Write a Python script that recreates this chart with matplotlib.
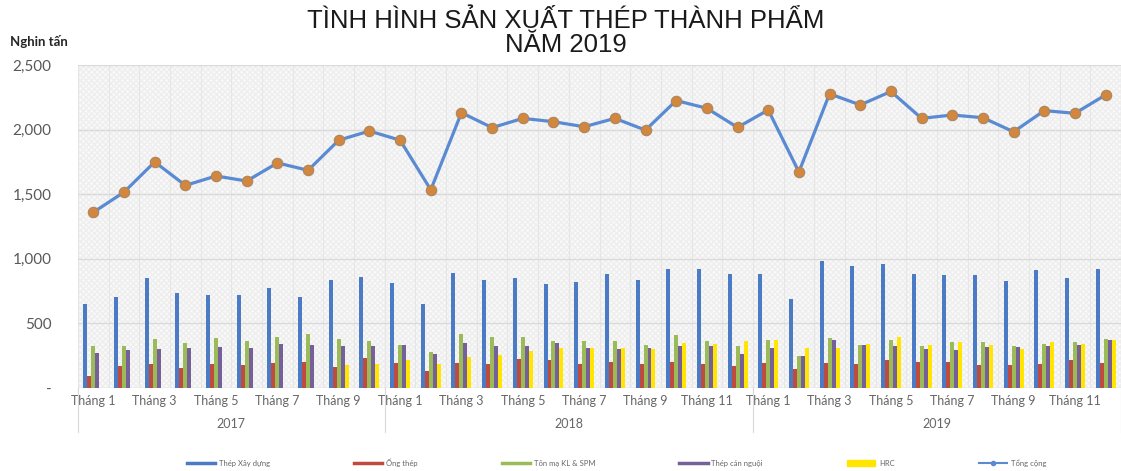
import numpy as np
import matplotlib
matplotlib.use("Agg")
import matplotlib.pyplot as plt
from matplotlib.lines import Line2D
from matplotlib.patches import Patch, Rectangle
import matplotlib.transforms as mtransforms

years = ["2017", "2018", "2019"]
months_2017 = list(range(1, 11))
months_2018 = list(range(1, 13))
months_2019 = list(range(1, 13))

thep_xay_dung = [654, 706, 851, 732, 722, 722, 773, 706, 839, 862,
                 815, 654, 893, 833, 849, 805, 823, 882, 833, 919, 919, 882,
                 882, 691, 984, 945, 958, 880, 875, 875, 828, 914, 854, 924]
ong_thep = [93, 171, 187, 153, 187, 179, 197, 205, 161, 231,
            192, 135, 197, 187, 226, 213, 187, 205, 187, 205, 187, 171,
            192, 145, 192, 187, 218, 205, 205, 179, 179, 187, 213, 192]
ton_ma = [322, 322, 381, 348, 387, 361, 395, 420, 379, 361,
          335, 275, 420, 395, 395, 361, 361, 361, 335, 407, 361, 322,
          374, 249, 387, 335, 369, 322, 353, 353, 322, 343, 353, 379]
thep_can_nguoi = [270, 296, 301, 309, 317, 309, 343, 335, 322, 322,
                  335, 265, 348, 322, 322, 348, 309, 304, 309, 327, 327, 265,
                  309, 244, 374, 335, 322, 301, 296, 317, 317, 322, 335, 369]
hrc = [0, 0, 0, 0, 0, 0, 0, 0, 179, 187,
       213, 187, 239, 257, 283, 309, 309, 309, 304, 348, 343, 361,
       369, 309, 309, 343, 395, 335, 353, 335, 301, 353, 340, 369]
tong_cong = [1360, 1516, 1750, 1568, 1641, 1602, 1742, 1685, 1918, 1989,
             1918, 1534, 2131, 2015, 2087, 2061, 2022, 2087, 1996, 2225, 2165, 2017,
             2152, 1672, 2277, 2191, 2295, 2087, 2113, 2092, 1983, 2147, 2126, 2269]

series_names = ["Thép Xây dựng", "Ống thép", "Tôn mạ KL & SPM", "Thép cán nguội", "HRC"]
series_vals = [thep_xay_dung, ong_thep, ton_ma, thep_can_nguoi, hrc]
colors = ["#4A7BC4", "#BE4B3E", "#9BBB59", "#76609A", "#FFE500"]
total_name = "Tổng cộng"

month_list = months_2017 + months_2018 + months_2019
year_sizes = [len(months_2017), len(months_2018), len(months_2019)]
labels = [f"Tháng {m}" if m % 2 == 1 else "" for m in month_list]

fig = plt.figure(figsize=(11.21, 4.71), dpi=100)
ax = fig.add_axes([78/1121, 1 - 388/471, 1043/1121, (388 - 65)/471])

n = len(month_list)
x = np.arange(n)
w = 0.13
for i, (vals, c) in enumerate(zip(series_vals, colors)):
    v = np.array(vals, dtype=float)
    ax.bar(x + (i - 2) * w, v, width=w, color=c, zorder=3, linewidth=0)

ax.plot(x, tong_cong, color="#5A8AD2", lw=2.3, zorder=4,
        marker="o", markersize=7.5, markerfacecolor="#D2863E",
        markeredgecolor="#A88660", markeredgewidth=0.8)

# background hatch
ax.patch.set_facecolor("#f8f8f8")
bg = Rectangle((0, 0), 1, 1, transform=ax.transAxes, facecolor="#f9f9f9",
               edgecolor="#eeeeee", hatch="xxxxxx", lw=0, zorder=0)
ax.add_patch(bg)

ax.set_xlim(-0.5, n - 0.5)
ax.set_ylim(0, 2500)
ax.set_yticks([0, 500, 1000, 1500, 2000, 2500])
ax.set_yticklabels(["-", "500", "1,000", "1,500", "2,000", "2,500"],
                   fontsize=11, color="#595959", family="Lato")
ax.tick_params(axis="y", length=0, pad=19)
ax.grid(axis="y", color="#dadada", lw=1.0, zorder=1)
for b in np.arange(-0.5, n, 1.0):
    ax.axvline(b, color="#e6e6e6", lw=0.8, zorder=1)

ax.set_xticks(x)
ax.set_xticklabels(labels, fontsize=9, color="#666666", family="Lato")
ax.tick_params(axis="x", length=0, pad=5)
for s in ax.spines.values():
    s.set_visible(False)

# year separators and year labels
trans = mtransforms.blended_transform_factory(ax.transData, ax.transAxes)
bounds = [-0.5]
for sz in year_sizes:
    bounds.append(bounds[-1] + sz)
for bx in bounds:
    ax.plot([bx, bx], [0, -0.137], transform=trans, color="#d9d9d9", lw=0.8, clip_on=False)
for yi, yr in enumerate(years):
    cx = (bounds[yi] + bounds[yi + 1]) / 2
    ax.text(cx, -0.11, yr, transform=trans, ha="center", va="center",
            fontsize=9, color="#666666", family="Lato")

fig.text(10/1121, 1 - 42/471, "Nghin tấn", fontsize=9.5, fontweight="bold",
         family="Lato", color="#262626", va="center", ha="left")
fig.text(566/1121, 1 - 33/471, "TÌNH HÌNH SẢN XUẤT THÉP THÀNH PHẨM\nNĂM 2019",
         ha="center", va="center", fontsize=18.5, family="Liberation Sans",
         color="#1a1a1a", linespacing=1.05)

handles = [Line2D([0], [0], color=c, lw=2.5) for c in colors[:4]]
handles.append(Patch(facecolor=colors[4], edgecolor=colors[4]))
handles.append(Line2D([0], [0], color="#5A8AD2", lw=1.5, marker="o", markersize=3,
                      markerfacecolor="#5A8AD2"))
leg = fig.legend(handles, series_names + [total_name], loc="center",
                 bbox_to_anchor=(0.55, 0.018), ncol=6, frameon=False,
                 prop={"family": "Lato", "size": 5.5}, handlelength=3.7,
                 columnspacing=11, handletextpad=0.5)
for t in leg.get_texts():
    t.set_color("#666666")

fig.savefig("out.png", dpi=100)
